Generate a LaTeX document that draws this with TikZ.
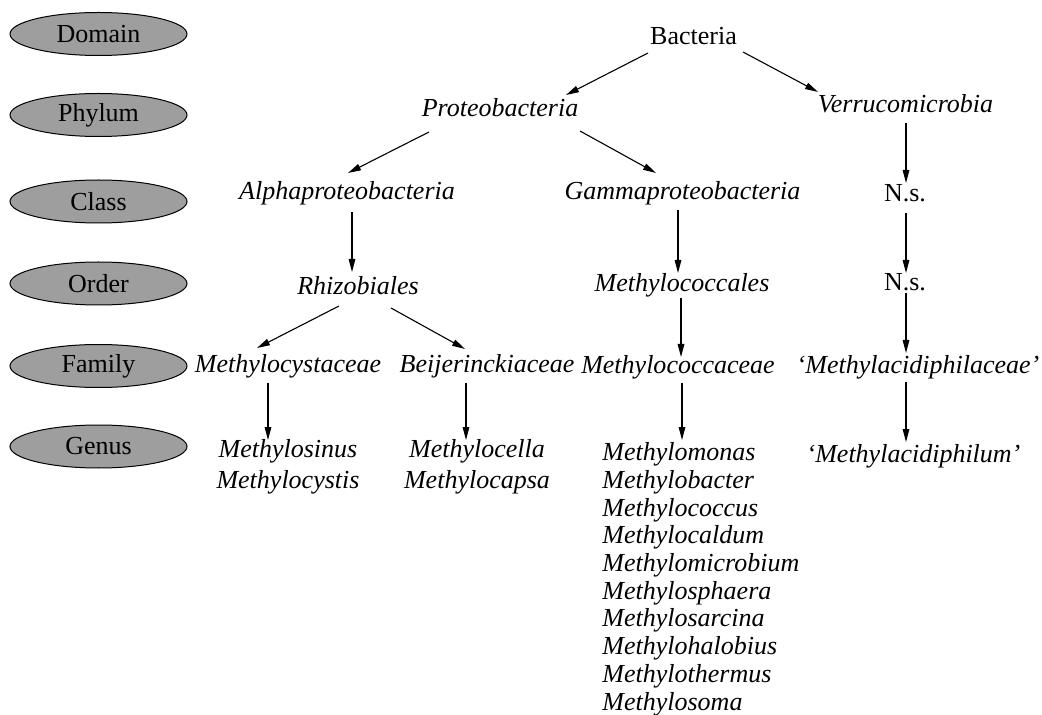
\documentclass[tikz,border=0pt]{standalone}
\usepackage{fontspec}
\setmainfont{Liberation Serif}
\usetikzlibrary{shapes.geometric,arrows.meta}

\newcommand{\taxsize}{\fontsize{13}{14}\selectfont}
\tikzset{
  rank/.style={ellipse, draw, fill=black!38, line width=0.5pt,
    minimum width=88.5pt, minimum height=21.5pt, inner sep=0pt, font=\taxsize},
  plain/.style={anchor=base, inner sep=0pt, font=\taxsize},
  taxon/.style={anchor=base, inner sep=0pt, font=\taxsize\itshape},
  link/.style={-{Triangle[length=6.5pt,width=3.3pt]}, line width=0.55pt}
}

\begin{document}
\begin{tikzpicture}[x=0.5pt,y=-0.5pt]
\useasboundingbox (0,0) rectangle (1042,715);

% rank column
\node[rank] (domain) at (98.5,34) {Domain};
\node[rank] (phylum) at (98.5,115) {Phylum};
\node[rank] (class) at (98.5,201.5) {Class};
\node[rank] (order) at (98.5,283.5) {Order};
\node[rank] (family) at (98.5,366) {Family};
\node[rank] (genus) at (98.5,446.5) {Genus};

% taxa
\node[plain] (bact) at (693.5,45) {Bacteria};
\node[taxon] (proteo) at (500,117) {Proteobacteria};
\node[taxon] (verru) at (905.5,113) {Verrucomicrobia};
\node[taxon] (alpha) at (347,200) {Alphaproteobacteria};
\node[taxon] (gamma) at (682.5,200) {Gammaproteobacteria};
\node[plain] (nsclass) at (905,202) {N.s.};
\node[taxon] (rhizo) at (358,295) {Rhizobiales};
\node[taxon] (mcoccales) at (682,292) {Methylococcales};
\node[plain] (nsorder) at (905,291) {N.s.};
\node[taxon] (mcystac) at (288,372) {Methylocystaceae};
\node[taxon] (beij) at (487,372) {Beijerinckiaceae};
\node[taxon] (mcoccac) at (678,373) {Methylococcaceae};
\node[taxon] (macidac) at (918,373) {`Methylacidiphilaceae'};
% multi-line genera: base = baseline of the last line
\node[taxon, align=center, font=\fontsize{13}{15.5}\selectfont\itshape] (gcyst) at (288,488) {Methylosinus\\Methylocystis};
\node[taxon, align=center, font=\fontsize{13}{15.5}\selectfont\itshape] (gbeij) at (477,488) {Methylocella\\Methylocapsa};
\node[taxon, align=left, anchor=base west, font=\fontsize{13}{13.85}\selectfont\itshape] (gcocc) at (602,710)
  {Methylomonas\\Methylobacter\\Methylococcus\\Methylocaldum\\Methylomicrobium\\Methylosphaera\\Methylosarcina\\Methylohalobius\\Methylothermus\\Methylosoma};
\node[taxon] (gacid) at (913.5,462) {`Methylacidiphilum'};

% arrows
\path[link]
  ([shift={(-45.5,8)}]bact.base) edge ([shift={(66,-22)}]proteo.base)
  ([shift={(49.5,7)}]bact.base) edge ([shift={(-87.5,-21)}]verru.base)
  ([shift={(-71,15)}]proteo.base) edge ([shift={(1,-27)}]alpha.base)
  ([shift={(80,14)}]proteo.base) edge ([shift={(-26.5,-27)}]gamma.base)
  ([shift={(0.5,10)}]verru.base) edge ([shift={(1,-19)}]nsclass.base)
  ([shift={(5,12)}]alpha.base) edge ([shift={(-6,-23)}]rhizo.base)
  ([shift={(-4.5,10)}]gamma.base) edge ([shift={(-4,-19)}]mcoccales.base)
  ([shift={(1,11)}]nsclass.base) edge ([shift={(1,-18)}]nsorder.base)
  ([shift={(-19,11)}]rhizo.base) edge ([shift={(-31,-24)}]mcystac.base)
  ([shift={(33,13)}]rhizo.base) edge ([shift={(-22,-23)}]beij.base)
  ([shift={(-1,6)}]mcoccales.base) edge ([shift={(3,-16)}]mcoccac.base)
  ([shift={(1,2)}]nsorder.base) edge ([shift={(-12,-20)}]macidac.base)
  ([shift={(-20,11)}]mcystac.base) edge ([shift={(-20,-48)}]gcyst.base)
  ([shift={(-21,11)}]beij.base) edge ([shift={(-11,-48)}]gbeij.base)
  ([shift={(4,10)}]mcoccac.base) edge ([shift={(80,-270)}]gcocc.base west)
  ([shift={(-12,9)}]macidac.base) edge ([shift={(-7.5,-20)}]gacid.base);
\end{tikzpicture}
\end{document}
